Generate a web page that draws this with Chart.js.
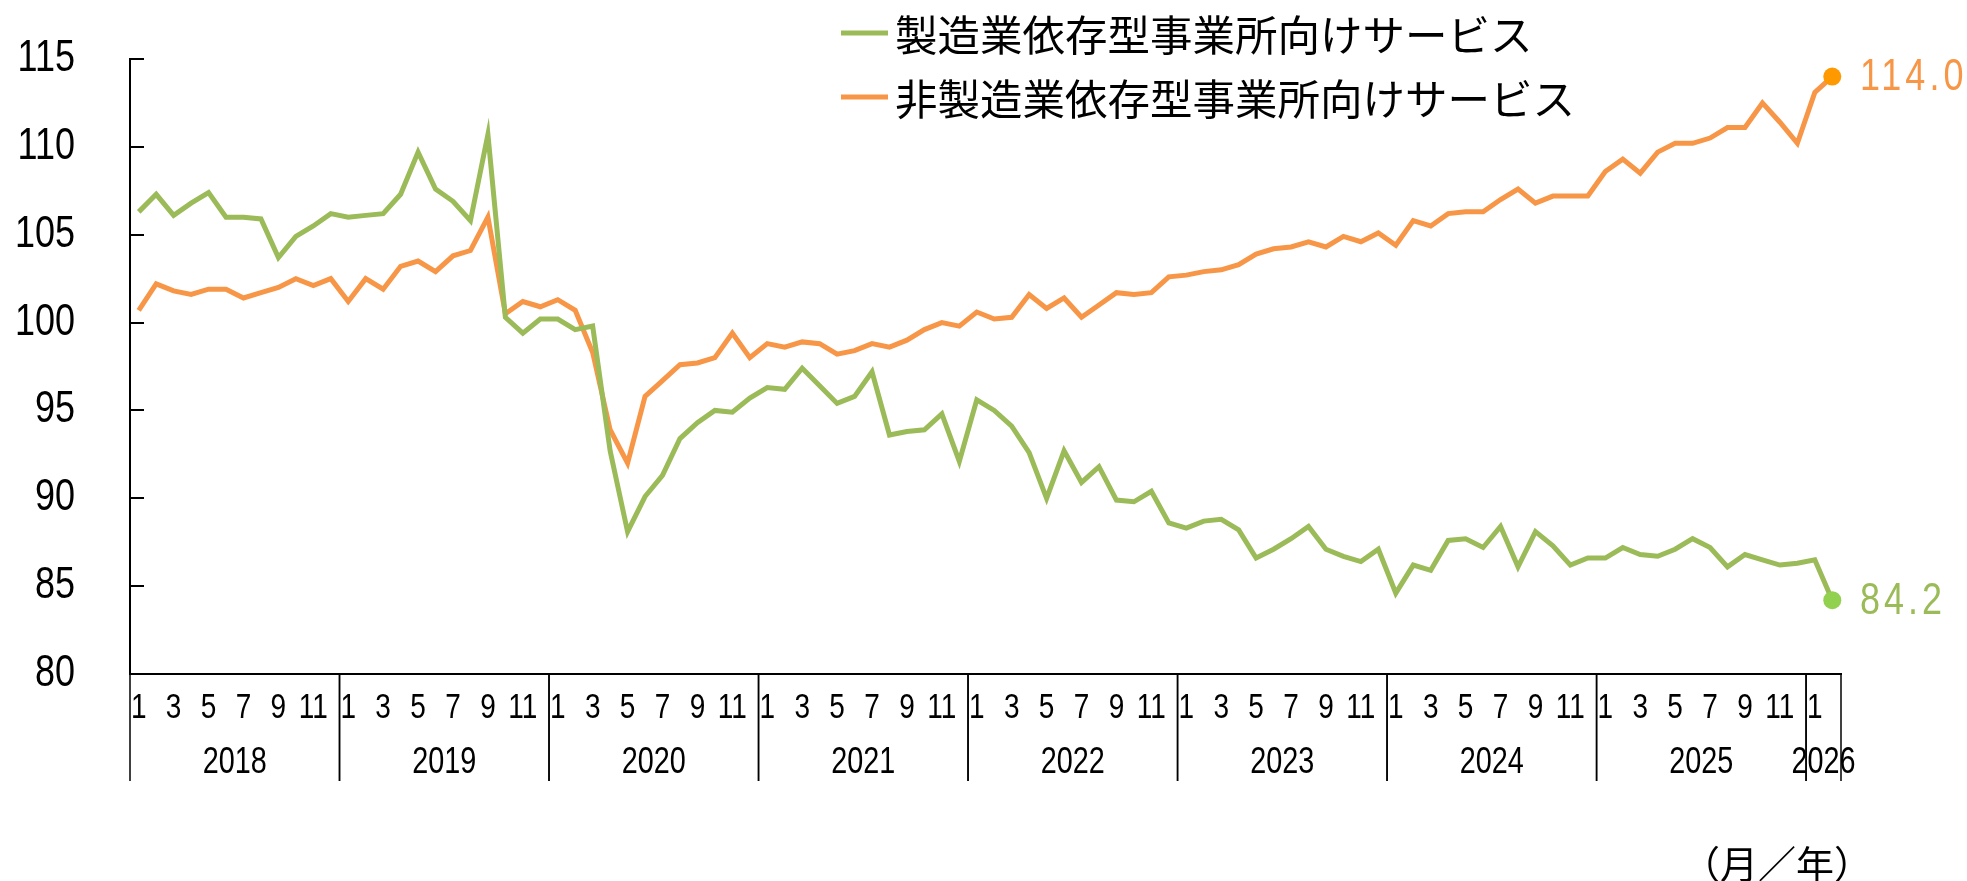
<!DOCTYPE html>
<html lang="ja">
<head>
<meta charset="utf-8">
<title>製造業依存型・非製造業依存型事業所向けサービス</title>
<script src="https://cdn.jsdelivr.net/npm/chart.js@4.4.1/dist/chart.umd.min.js"></script>
<style>
  html, body { margin: 0; padding: 0; background: #fff; }
  #wrap { width: 1967px; height: 881px; }
</style>
</head>
<body>
<div id="wrap"><canvas id="chart" width="1967" height="881"></canvas></div>
<script>
// 年・月の区切り
const years = [2018, 2019, 2020, 2021, 2022, 2023, 2024, 2025, 2026];
const monthsInYear = [12, 12, 12, 12, 12, 12, 12, 12, 2];

// 製造業依存型事業所向けサービス
const mfgDependent = [
  106.3, 107.3, 106.1, 106.8, 107.4, 106.0, 106.0, 105.9, 103.7, 104.9, 105.5, 106.2,
  106.0, 106.1, 106.2, 107.3, 109.7, 107.6, 106.9, 105.8, 110.7, 100.3, 99.4, 100.2,
  100.2, 99.6, 99.8, 92.7, 88.1, 90.1, 91.3, 93.4, 94.3, 95.0, 94.9, 95.7,
  96.3, 96.2, 97.4, 96.4, 95.4, 95.8, 97.2, 93.6, 93.8, 93.9, 94.8, 92.1,
  95.6, 95.0, 94.1, 92.6, 90.0, 92.7, 90.9, 91.8, 89.9, 89.8, 90.4, 88.6,
  88.3, 88.7, 88.8, 88.2, 86.6, 87.1, 87.7, 88.4, 87.1, 86.7, 86.4, 87.1,
  84.6, 86.2, 85.9, 87.6, 87.7, 87.2, 88.4, 86.1, 88.1, 87.3, 86.2, 86.6,
  86.6, 87.2, 86.8, 86.7, 87.1, 87.7, 87.2, 86.1, 86.8, 86.5, 86.2, 86.3,
  86.5, 84.2
];

// 非製造業依存型事業所向けサービス
const nonMfgDependent = [
  100.7, 102.2, 101.8, 101.6, 101.9, 101.9, 101.4, 101.7, 102.0, 102.5, 102.1, 102.5,
  101.2, 102.5, 101.9, 103.2, 103.5, 102.9, 103.8, 104.1, 106.0, 100.5, 101.2, 100.9,
  101.3, 100.7, 98.3, 93.9, 92.0, 95.8, 96.7, 97.6, 97.7, 98.0, 99.4, 98.0,
  98.8, 98.6, 98.9, 98.8, 98.2, 98.4, 98.8, 98.6, 99.0, 99.6, 100.0, 99.8,
  100.6, 100.2, 100.3, 101.6, 100.8, 101.4, 100.3, 101.0, 101.7, 101.6, 101.7, 102.6,
  102.7, 102.9, 103.0, 103.3, 103.9, 104.2, 104.3, 104.6, 104.3, 104.9, 104.6, 105.1,
  104.4, 105.8, 105.5, 106.2, 106.3, 106.3, 107.0, 107.6, 106.8, 107.2, 107.2, 107.2,
  108.6, 109.3, 108.5, 109.7, 110.2, 110.2, 110.5, 111.1, 111.1, 112.5, 111.4, 110.2,
  113.1, 114.0
];

const seriesNames = ['製造業依存型事業所向けサービス', '非製造業依存型事業所向けサービス'];
const seriesColors = ['#9BBB59', '#F79646'];
const endDotColors = ['#92D050', '#FF9900'];
const yTicks = [80, 85, 90, 95, 100, 105, 110, 115];
const unitLabel = '（月／年）';

const SANS = "'Liberation Sans', Arial, sans-serif";
const JP = "'Noto Sans CJK JP', sans-serif";

const months = [];
const monthYear = [];
years.forEach((y, i) => {
  for (let m = 1; m <= monthsInYear[i]; m++) {
    months.push(m);
    monthYear.push(y);
  }
});
const labels = months.map((m, i) => monthYear[i] + '/' + m);
const lastIdx = labels.length - 1;

const AXIS_BOTTOM = 781;

// 元図の細長い数字に寄せるため横方向を縮めて描く
function narrowText(ctx, text, x, y, size, align, color, spacing) {
  ctx.save();
  ctx.translate(x, y);
  ctx.scale(0.8, 1);
  ctx.font = size + 'px ' + SANS;
  ctx.fillStyle = color || '#000';
  ctx.textAlign = align;
  ctx.textBaseline = 'middle';
  if (spacing) ctx.letterSpacing = spacing;
  ctx.fillText(text, 0, 0);
  ctx.restore();
}

const decor = {
  id: 'decor',
  afterDraw(chart) {
    const { ctx, chartArea } = chart;
    const xs = chart.scales.x;
    const ys = chart.scales.y;
    const w = xs.getPixelForValue(1) - xs.getPixelForValue(0);
    ctx.save();
    ctx.strokeStyle = '#000';

    // y軸: 内向き目盛りとラベル
    ctx.lineWidth = 2;
    yTicks.forEach(v => {
      const y = Math.round(ys.getPixelForValue(v));
      ctx.beginPath();
      ctx.moveTo(chartArea.left, y);
      ctx.lineTo(chartArea.left + 14, y);
      ctx.stroke();
      narrowText(ctx, String(v), 75, y, 45, 'right');
    });

    // 月ラベル（奇数月のみ）
    months.forEach((m, i) => {
      if (m % 2 === 1) {
        narrowText(ctx, String(m), xs.getPixelForValue(i), 708, 35, 'center');
      }
    });

    // 年の区切り線と年ラベル
    ctx.lineWidth = 1.5;
    let start = 0;
    years.forEach((yr, i) => {
      const end = start + monthsInYear[i] - 1;
      const x0 = xs.getPixelForValue(start) - w / 2;
      const x1 = xs.getPixelForValue(end) + w / 2;
      [x0, x1].forEach(x => {
        ctx.beginPath();
        ctx.moveTo(x, chartArea.bottom);
        ctx.lineTo(x, AXIS_BOTTOM);
        ctx.stroke();
      });
      narrowText(ctx, String(yr), (x0 + x1) / 2, 763, 36, 'center');
      start = end + 1;
    });

    // 凡例
    const legendRows = [33, 97];
    seriesNames.forEach((name, i) => {
      ctx.strokeStyle = seriesColors[i];
      ctx.lineWidth = 5;
      ctx.beginPath();
      ctx.moveTo(841, legendRows[i]);
      ctx.lineTo(888, legendRows[i]);
      ctx.stroke();
      ctx.fillStyle = '#000';
      ctx.font = '42.5px ' + JP;
      ctx.textAlign = 'left';
      ctx.textBaseline = 'middle';
      ctx.fillText(name, 895, legendRows[i] + 2);
    });

    // 最新値ラベル
    [mfgDependent, nonMfgDependent].forEach((arr, i) => {
      const v = arr[lastIdx];
      narrowText(ctx, v.toFixed(1), 1860, ys.getPixelForValue(v) + 1, 45, 'left', seriesColors[i], '5px');
    });

    // 単位
    ctx.fillStyle = '#000';
    ctx.font = '38px ' + JP;
    ctx.textAlign = 'right';
    ctx.textBaseline = 'middle';
    ctx.fillText(unitLabel, 1872, 864);
    ctx.restore();
  }
};

new Chart(document.getElementById('chart'), {
  type: 'line',
  data: {
    labels: labels,
    datasets: [
      {
        label: seriesNames[0],
        data: mfgDependent,
        borderColor: seriesColors[0],
        backgroundColor: endDotColors[0],
        borderWidth: 5,
        tension: 0,
        pointRadius: ctx => ctx.dataIndex === lastIdx ? 9 : 0,
        pointBorderWidth: 0,
        pointBackgroundColor: endDotColors[0]
      },
      {
        label: seriesNames[1],
        data: nonMfgDependent,
        borderColor: seriesColors[1],
        backgroundColor: endDotColors[1],
        borderWidth: 5,
        tension: 0,
        pointRadius: ctx => ctx.dataIndex === lastIdx ? 9 : 0,
        pointBorderWidth: 0,
        pointBackgroundColor: endDotColors[1]
      }
    ]
  },
  options: {
    responsive: false,
    animation: false,
    devicePixelRatio: 1,
    layout: { padding: { top: 59, right: 126, left: 0, bottom: 0 } },
    plugins: {
      legend: { display: false },
      tooltip: { enabled: false }
    },
    scales: {
      x: {
        type: 'category',
        offset: true,
        grid: { display: false, drawTicks: false },
        border: { display: true, color: '#000', width: 2 },
        ticks: { display: false },
        afterFit: scale => { scale.height = 207; }
      },
      y: {
        min: 80,
        max: 115,
        grid: { display: false, drawTicks: false },
        border: { display: true, color: '#000', width: 2 },
        ticks: { display: false, stepSize: 5 },
        afterFit: scale => { scale.width = 130; }
      }
    }
  },
  plugins: [decor]
});
</script>
</body>
</html>
